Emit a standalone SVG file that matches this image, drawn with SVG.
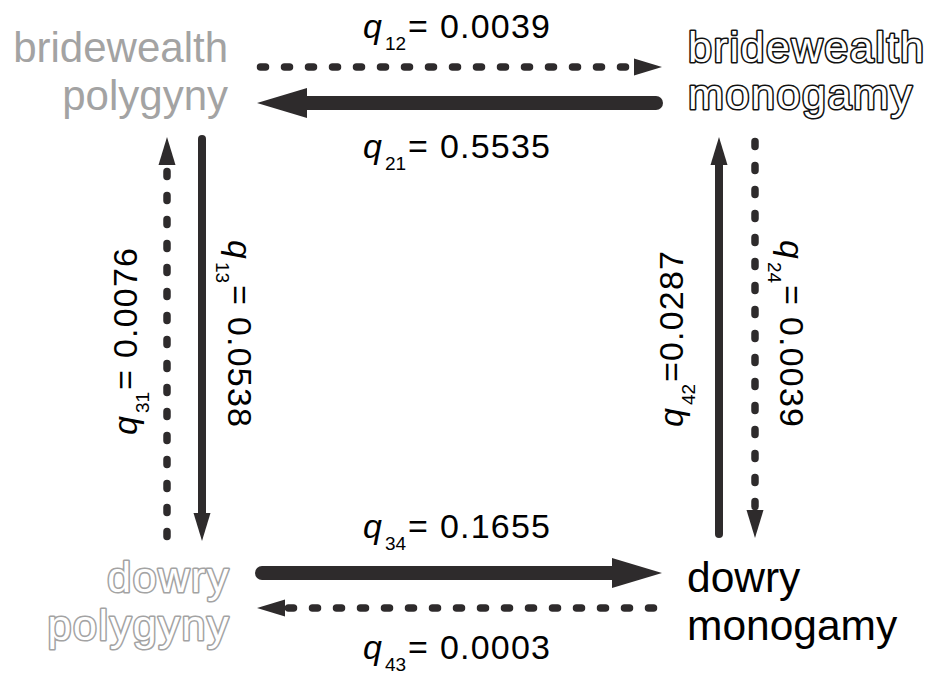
<svg xmlns="http://www.w3.org/2000/svg" width="929" height="682" viewBox="0 0 929 682">
<style>
  .node { font-family: "Liberation Sans", Arial, sans-serif; }
  .gfill { fill: #a3a3a3; font-size: 42px; }
  .bfill { fill: #000; font-size: 42.5px; }
  .outline { fill: #fff; font-size: 43px; stroke-width: 3.2px; letter-spacing: 1.6px; stroke-linejoin: round; paint-order: stroke; }
  .ob { stroke: #111; }
  .og { stroke: #a3a3a3; }
  .lbl { font-family: "Liberation Sans", Arial, sans-serif; font-size: 34px; fill: #000; }
  .q { font-style: italic; }
  .sub { font-size: 19px; }
  .num { letter-spacing: 1.2px; }
  .thick { stroke: #2e2b2c; stroke-width: 14; fill: none; stroke-linecap: round; marker-end: url(#headBig); }
  .solid { stroke: #2e2b2c; stroke-width: 8; fill: none; stroke-linecap: round; marker-end: url(#headSmall); }
  .dot { stroke: #2e2b2c; stroke-width: 7.5; fill: none; stroke-linecap: round; stroke-dasharray: 5 19; marker-end: url(#headSmall); }
</style>
<defs>
  <marker id="headBig" markerUnits="userSpaceOnUse" orient="auto" refX="0" refY="0" markerWidth="60" markerHeight="40" overflow="visible">
    <path d="M0,-15 L50,0 L0,15 Z" fill="#2e2b2c"/>
  </marker>
  <marker id="headSmall" markerUnits="userSpaceOnUse" orient="auto" refX="0" refY="0" markerWidth="40" markerHeight="30" overflow="visible">
    <path d="M0,-8.5 L28,0 L0,8.5 Z" fill="#2e2b2c"/>
  </marker>
</defs>

<g id="connectors">
  <g id="c12">
    <path class="dot" d="M260.5,67 H634"/>
    <text class="lbl" x="363" y="38"><tspan class="q">q</tspan><tspan class="sub" x="385" dy="12">12</tspan><tspan x="408" dy="-12">=</tspan><tspan class="num" x="440">0.0039</tspan></text>
  </g>
  <g id="c21">
    <path class="thick" d="M656,103 H307"/>
    <text class="lbl" x="363" y="158"><tspan class="q">q</tspan><tspan class="sub" x="385" dy="12">21</tspan><tspan x="408" dy="-12">=</tspan><tspan class="num" x="440">0.5535</tspan></text>
  </g>
  <g id="c34">
    <path class="thick" d="M262,573 H612"/>
    <text class="lbl" x="363" y="538"><tspan class="q">q</tspan><tspan class="sub" x="385" dy="12">34</tspan><tspan x="408" dy="-12">=</tspan><tspan class="num" x="440">0.1655</tspan></text>
  </g>
  <g id="c43">
    <path class="dot" d="M653.5,608 H285"/>
    <text class="lbl" x="363" y="659"><tspan class="q">q</tspan><tspan class="sub" x="385" dy="12">43</tspan><tspan x="408" dy="-12">=</tspan><tspan class="num" x="440">0.0003</tspan></text>
  </g>
  <g id="c31">
    <path class="dot" d="M167,536.5 V165"/>
    <text class="lbl" transform="translate(137,435) rotate(-90)" x="0" y="0"><tspan class="q">q</tspan><tspan class="sub" x="22" dy="12">31</tspan><tspan x="45" dy="-12">=</tspan><tspan class="num" x="77">0.0076</tspan></text>
  </g>
  <g id="c13">
    <path class="solid" d="M202,139 V513"/>
    <text class="lbl" transform="translate(228,240) rotate(90)" x="0" y="0"><tspan class="q">q</tspan><tspan class="sub" x="22" dy="12">13</tspan><tspan x="45" dy="-12">=</tspan><tspan class="num" x="77">0.0538</tspan></text>
  </g>
  <g id="c42">
    <path class="solid" d="M719,534 V165"/>
    <text class="lbl" transform="translate(683,427) rotate(-90)" x="0" y="0"><tspan class="q">q</tspan><tspan class="sub" x="22" dy="12">42</tspan><tspan x="45" dy="-12">=</tspan><tspan class="num" x="66">0.0287</tspan></text>
  </g>
  <g id="c24">
    <path class="dot" d="M755,141.5 V510"/>
    <text class="lbl" transform="translate(780,240) rotate(90)" x="0" y="0"><tspan class="q">q</tspan><tspan class="sub" x="22" dy="12">24</tspan><tspan x="45" dy="-12">=</tspan><tspan class="num" x="77">0.0039</tspan></text>
  </g>
</g>

<g id="bridewealth-polygyny" class="node">
  <text class="gfill" x="228" y="62" text-anchor="end">bridewealth</text>
  <text class="gfill" x="228" y="110" text-anchor="end">polygyny</text>
</g>
<g id="bridewealth-monogamy" class="node">
  <text class="outline ob" x="688" y="62">bridewealth</text>
  <text class="outline ob" x="688" y="109">monogamy</text>
</g>
<g id="dowry-polygyny" class="node">
  <text class="outline og" x="230" y="592" text-anchor="end">dowry</text>
  <text class="outline og" x="230" y="640" text-anchor="end">polygyny</text>
</g>
<g id="dowry-monogamy" class="node">
  <text class="bfill" x="687" y="592">dowry</text>
  <text class="bfill" x="687" y="640">monogamy</text>
</g>
</svg>
